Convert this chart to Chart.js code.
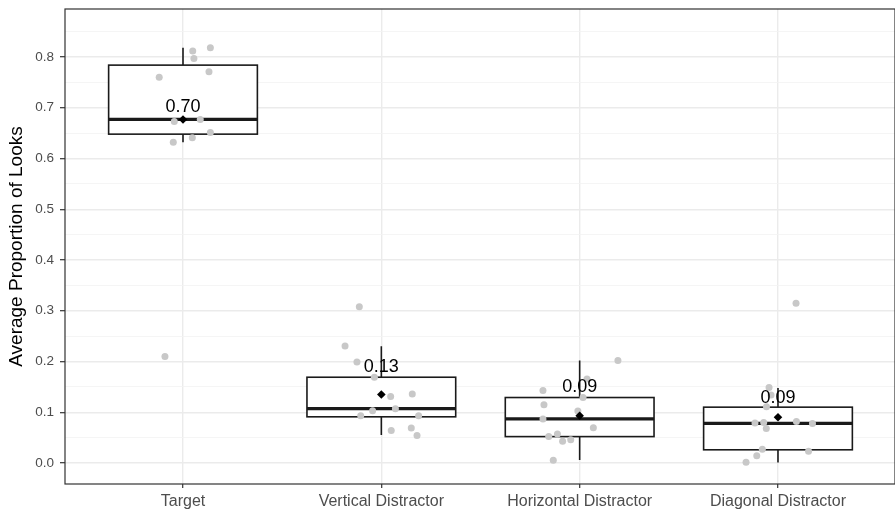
<!DOCTYPE html>
<html>
<head>
<meta charset="utf-8">
<script src="https://cdn.jsdelivr.net/npm/chart.js@4.4.1/dist/chart.umd.min.js"></script>
<style>
  html, body { margin: 0; padding: 0; background: #fff; }
  #chart { display: block; }
</style>
</head>
<body>
<canvas id="chart" width="895" height="510"></canvas>
<script>
// Categories on the x axis
const categories = ['Target', 'Vertical Distractor', 'Horizontal Distractor', 'Diagonal Distractor'];

// Box statistics
const whiskerLow  = [0.632, 0.055, 0.006, 0.001];
const q1          = [0.648, 0.091, 0.052, 0.026];
const medians     = [0.677, 0.107, 0.087, 0.078];
const q3          = [0.784, 0.169, 0.129, 0.110];
const whiskerHigh = [0.818, 0.230, 0.202, 0.148];
const means       = [0.677, 0.135, 0.093, 0.090];
const meanLabels  = ['0.70', '0.13', '0.09', '0.09'];
const meanLabelY  = [0.701, 0.189, 0.149, 0.128];

// Jittered raw points (values, and jitter in category units)
const targetVals     = [0.812, 0.818, 0.797, 0.760, 0.771, 0.673, 0.677, 0.651, 0.641, 0.632, 0.210];
const targetJitter   = [0.049, 0.138, 0.055, -0.120, 0.131, -0.044, 0.087, 0.138, 0.047, -0.049, -0.091];
const verticalVals   = [0.308, 0.2305, 0.199, 0.169, 0.131, 0.136, 0.107, 0.103, 0.093, 0.093, 0.064, 0.069, 0.054];
const verticalJitter = [-0.111, -0.183, -0.123, -0.035, 0.047, 0.156, 0.071, -0.044, -0.104, 0.188, 0.050, 0.151, 0.180];
const horizVals      = [0.202, 0.1655, 0.143, 0.129, 0.115, 0.1025, 0.0867, 0.0696, 0.057, 0.052, 0.046, 0.043, 0.0053];
const horizJitter    = [0.193, 0.037, -0.185, 0.017, -0.180, -0.009, -0.185, 0.069, -0.112, -0.156, -0.045, -0.086, -0.133];
const diagVals       = [0.3146, 0.149, 0.134, 0.111, 0.082, 0.080, 0.079, 0.078, 0.068, 0.027, 0.023, 0.0145, 0.0014];
const diagJitter     = [0.091, -0.045, -0.035, -0.058, 0.093, -0.072, -0.116, 0.174, -0.059, -0.079, 0.154, -0.107, -0.161];

const pointVals   = [targetVals, verticalVals, horizVals, diagVals];
const pointJitter = [targetJitter, verticalJitter, horizJitter, diagJitter];

// Y axis ticks
const yMajorTicks = [0, 0.1, 0.2, 0.3, 0.4, 0.5, 0.6, 0.7, 0.8];
const yTickLabels = ['0.0', '0.1', '0.2', '0.3', '0.4', '0.5', '0.6', '0.7', '0.8'];
const yMinorTicks = [0.05, 0.15, 0.25, 0.35, 0.45, 0.55, 0.65, 0.75, 0.85];

const BOX_HALF = 0.375;
const FONT = "'Liberation Sans', Arial, Helvetica, sans-serif";

const majorIndex = v => yMajorTicks.findIndex(t => Math.abs(t - v) < 1e-6);

// kill the label-overflow padding so the panel lands where it should
const noPad = s => { s.paddingLeft = 0; s.paddingRight = 0; s.paddingTop = 0; s.paddingBottom = 0; };

/** Boxes + whiskers, drawn under the points */
const boxPlugin = {
  id: 'boxes',
  beforeDatasetsDraw(chart) {
    const { ctx, scales: { x, y } } = chart;
    ctx.save();
    ctx.strokeStyle = '#1a1a1a';
    categories.forEach((_, i) => {
      const c = i + 1;
      const xl = x.getPixelForValue(c - BOX_HALF);
      const xr = x.getPixelForValue(c + BOX_HALF);
      const xc = x.getPixelForValue(c);
      const yt = y.getPixelForValue(q3[i]);
      const yb = y.getPixelForValue(q1[i]);
      const ym = y.getPixelForValue(medians[i]);

      ctx.lineWidth = 1.6;
      ctx.beginPath();
      ctx.moveTo(xc, yt); ctx.lineTo(xc, y.getPixelForValue(whiskerHigh[i]));
      ctx.moveTo(xc, yb); ctx.lineTo(xc, y.getPixelForValue(whiskerLow[i]));
      ctx.stroke();

      ctx.fillStyle = '#fff';
      ctx.fillRect(xl, yt, xr - xl, yb - yt);
      ctx.strokeRect(xl, yt, xr - xl, yb - yt);

      ctx.lineWidth = 3.2;
      ctx.beginPath();
      ctx.moveTo(xl, ym); ctx.lineTo(xr, ym);
      ctx.stroke();
    });
    ctx.restore();
  },
};

/** Mean labels + panel border */
const labelPlugin = {
  id: 'meanLabels',
  afterDatasetsDraw(chart) {
    const { ctx, scales: { x, y } } = chart;
    ctx.save();
    ctx.fillStyle = '#000';
    ctx.font = `18px ${FONT}`;
    ctx.textAlign = 'center';
    ctx.textBaseline = 'middle';
    meanLabels.forEach((txt, i) => {
      ctx.fillText(txt, x.getPixelForValue(i + 1), y.getPixelForValue(meanLabelY[i]));
    });
    ctx.restore();
  },
  afterDraw(chart) {
    const { ctx, chartArea: a } = chart;
    ctx.save();
    ctx.strokeStyle = '#333';
    ctx.lineWidth = 1.2;
    ctx.strokeRect(a.left, a.top, a.right - a.left, a.bottom - a.top);
    ctx.restore();
  },
};

const jitterPoints = pointVals.flatMap((vals, i) =>
  vals.map((v, j) => ({ x: i + 1 + pointJitter[i][j], y: v })));

new Chart(document.getElementById('chart'), {
  type: 'scatter',
  data: {
    datasets: [
      {
        label: 'mean',
        data: means.map((m, i) => ({ x: i + 1, y: m })),
        pointStyle: 'rectRot',
        pointRadius: 4.3,
        backgroundColor: '#000',
        borderWidth: 0,
      },
      {
        label: 'points',
        data: jitterPoints,
        pointRadius: 3.5,
        backgroundColor: '#c8c8c8',
        borderWidth: 0,
      },
    ],
  },
  options: {
    responsive: false,
    animation: false,
    layout: { autoPadding: false, padding: { top: 9, left: 0, right: 0, bottom: 0 } },
    plugins: {
      legend: { display: false },
      tooltip: { enabled: false },
    },
    scales: {
      x: {
        type: 'linear',
        min: 0.405,
        max: 4.59,
        afterBuildTicks: s => { s.ticks = categories.map((_, i) => ({ value: i + 1 })); },
        afterFit: s => { s.height = 26; noPad(s); },
        border: { display: false },
        grid: { color: '#ebebeb', lineWidth: 1.4, tickColor: '#333', tickWidth: 1.2, tickLength: 4 },
        ticks: {
          autoSkip: false,
          maxRotation: 0,
          padding: 4,
          color: '#4d4d4d',
          font: { family: FONT, size: 16 },
          callback: v => categories[Math.round(v) - 1] ?? '',
        },
      },
      y: {
        type: 'linear',
        min: -0.0414,
        max: 0.8946,
        afterBuildTicks: s => {
          s.ticks = [...yMajorTicks, ...yMinorTicks].sort((a, b) => a - b).map(v => ({ value: v }));
        },
        afterFit: s => { s.width = 65; noPad(s); },
        border: { display: false },
        grid: {
          color: c => (majorIndex(c.tick.value) >= 0 ? '#ebebeb' : '#f2f2f2'),
          lineWidth: c => (majorIndex(c.tick.value) >= 0 ? 1.4 : 0.8),
          tickColor: c => (majorIndex(c.tick.value) >= 0 ? '#333' : 'rgba(0,0,0,0)'),
          tickWidth: 1.2,
          tickLength: 5,
        },
        ticks: {
          autoSkip: false,
          padding: 6,
          color: '#4d4d4d',
          font: { family: FONT, size: 13.5 },
          callback: v => {
            const k = majorIndex(v);
            return k >= 0 ? yTickLabels[k] : '';
          },
        },
        title: {
          display: true,
          text: 'Average Proportion of Looks',
          color: '#000',
          font: { family: FONT, size: 19 },
          padding: { top: 5, bottom: 0 },
        },
      },
    },
  },
  plugins: [boxPlugin, labelPlugin],
});
</script>
</body>
</html>
